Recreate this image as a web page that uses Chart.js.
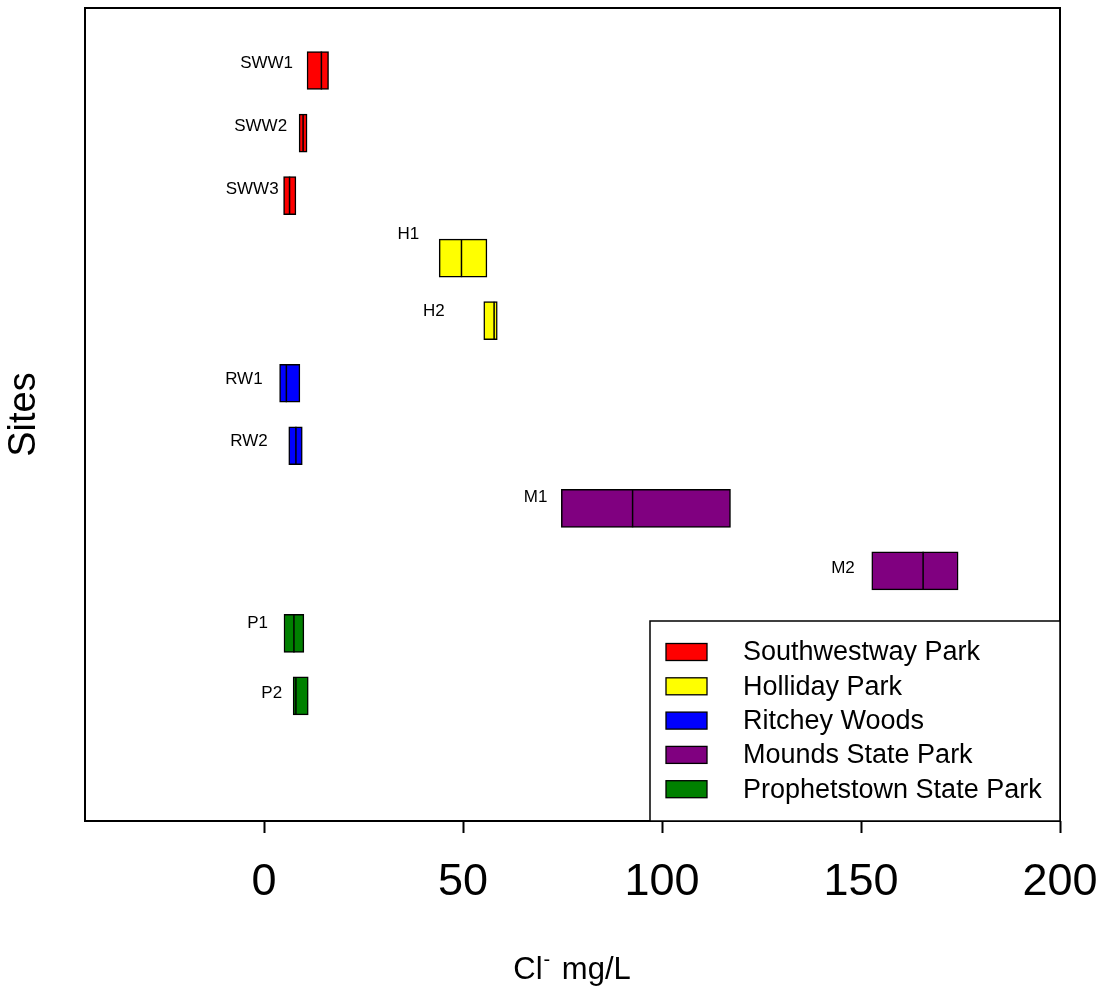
<!DOCTYPE html>
<html>
<head>
<meta charset="utf-8">
<script src="https://cdn.jsdelivr.net/npm/chart.js@4/dist/chart.umd.min.js"></script>
<style>
  html, body { margin: 0; padding: 0; background: #fff; }
  canvas { display: block; }
</style>
</head>
<body>
<canvas id="c" width="1108" height="990"></canvas>
<script>
// Chloride concentration ranges (min, max, median) per sampling site, mg/L
const sites    = ['SWW1', 'SWW2', 'SWW3', 'H1', 'H2', 'RW1', 'RW2', 'M1', 'M2', 'P1', 'P2'];
const lows     = [10.8, 8.8, 4.9, 44.0, 55.2, 3.9, 6.2, 74.7, 152.7, 5.0, 7.3];
const highs    = [16.2, 10.8, 8.0, 56.0, 58.6, 9.0, 9.6, 117.2, 174.4, 10.0, 11.1];
const medians  = [14.4, 9.8, 6.4, 49.6, 57.8, 5.6, 8.0, 92.6, 165.6, 7.5, 8.0];
const siteParks = [0, 0, 0, 1, 1, 2, 2, 3, 3, 4, 4];

const parks      = ['Southwestway Park', 'Holliday Park', 'Ritchey Woods', 'Mounds State Park', 'Prophetstown State Park'];
const parkColors = ['#ff0000', '#ffff00', '#0000ff', '#800080', '#008000'];

const xTicks = [0, 50, 100, 150, 200];

// one blank slot above the sites and two below
const rowLabels = [''].concat(sites, ['', '']);

const FONT = "'Liberation Sans', Arial, Helvetica, sans-serif";

const datasets = parks.map((park, p) => ({
  label: park,
  data: rowLabels.map((_, r) => {
    const i = r - 1;
    return (i >= 0 && i < sites.length && siteParks[i] === p) ? [lows[i], highs[i]] : null;
  }),
  backgroundColor: parkColors[p],
  borderColor: '#000',
  borderWidth: 1.5,
  borderSkipped: false,
  barThickness: 38,
  grouped: false
}));

// frame around the plotting area
const framePlugin = {
  id: 'frame',
  afterDraw(chart) {
    const { ctx, chartArea: a } = chart;
    ctx.save();
    ctx.strokeStyle = '#000';
    ctx.lineWidth = 2;
    ctx.strokeRect(a.left, a.top, a.right - a.left, a.bottom - a.top);
    ctx.restore();
  }
};

// median line inside each box and the site name beside it
const boxDetailPlugin = {
  id: 'boxDetail',
  afterDatasetsDraw(chart, args, opts) {
    const { ctx } = chart;
    const xs = chart.scales.x, ys = chart.scales.y;
    ctx.save();
    sites.forEach((name, i) => {
      const yc = ys.getPixelForValue(i + 1);
      const xm = xs.getPixelForValue(medians[i]);
      ctx.strokeStyle = '#000';
      ctx.lineWidth = 1.5;
      ctx.beginPath();
      ctx.moveTo(xm, yc - 19);
      ctx.lineTo(xm, yc + 19);
      ctx.stroke();

      const xl = xs.getPixelForValue(lows[i]);
      ctx.fillStyle = '#000';
      ctx.font = '17px ' + FONT;
      ctx.textAlign = 'right';
      ctx.textBaseline = 'middle';
      ctx.fillText(name, xl - opts.gaps[i], yc + opts.shifts[i]);
    });
    ctx.restore();
  }
};

// boxed legend in the lower right corner of the plot
const boxLegendPlugin = {
  id: 'boxLegend',
  afterDraw(chart) {
    const { ctx, chartArea: a } = chart;
    const w = 410, h = 200;
    const x0 = a.right - w, y0 = a.bottom - h;
    ctx.save();
    ctx.fillStyle = '#fff';
    ctx.fillRect(x0, y0, w, h);
    ctx.strokeStyle = '#000';
    ctx.lineWidth = 1.5;
    ctx.strokeRect(x0, y0, w, h);
    chart.data.datasets.forEach((ds, k) => {
      const cy = y0 + 31 + k * 34.3;
      ctx.fillStyle = ds.backgroundColor;
      ctx.fillRect(x0 + 16, cy - 8.5, 41, 17);
      ctx.strokeStyle = '#000';
      ctx.lineWidth = 1.3;
      ctx.strokeRect(x0 + 16, cy - 8.5, 41, 17);
      ctx.fillStyle = '#000';
      ctx.font = '27px ' + FONT;
      ctx.textAlign = 'left';
      ctx.textBaseline = 'middle';
      ctx.fillText(ds.label, x0 + 93, cy + 1);
    });
    ctx.restore();
  }
};

// x axis title: Cl with a superscript minus, then the unit
const xTitlePlugin = {
  id: 'xTitle',
  afterDraw(chart) {
    const { ctx } = chart;
    const cx = 572, base = 979;
    ctx.save();
    ctx.fillStyle = '#000';
    ctx.textBaseline = 'alphabetic';
    ctx.textAlign = 'left';
    ctx.font = '31px ' + FONT;
    const wCl = ctx.measureText('Cl').width;
    const wUnit = ctx.measureText(' mg/L').width;
    ctx.font = '20px ' + FONT;
    const wSup = ctx.measureText('-').width;
    const total = wCl + wSup + 4 + wUnit;
    let x = cx - total / 2;
    ctx.font = '31px ' + FONT;
    ctx.fillText('Cl', x, base);
    x += wCl + 1;
    ctx.font = '20px ' + FONT;
    ctx.fillText('-', x, base - 13);
    x += wSup + 3;
    ctx.font = '31px ' + FONT;
    ctx.fillText(' mg/L', x, base);
    ctx.restore();
  }
};

new Chart(document.getElementById('c'), {
  type: 'bar',
  data: { labels: rowLabels, datasets },
  options: {
    indexAxis: 'y',
    responsive: false,
    animation: false,
    events: [],
    layout: { padding: { left: 0, right: 48, top: 8, bottom: 0 } },
    scales: {
      x: {
        type: 'linear',
        min: -45,
        max: 200,
        afterBuildTicks(scale) {
          scale.ticks = xTicks.map(v => ({ value: v }));
        },
        afterFit(scale) {
          scale.height = 169;
          scale.paddingLeft = 0;
          scale.paddingRight = 0;
        },
        border: { display: false },
        grid: {
          drawOnChartArea: false,
          drawTicks: true,
          tickLength: 12,
          tickWidth: 2,
          tickColor: '#000'
        },
        ticks: {
          color: '#000',
          font: { family: FONT, size: 45 },
          padding: 23,
          maxRotation: 0
        }
      },
      y: {
        type: 'category',
        offset: false,
        afterFit(scale) {
          scale.width = 85;
          scale.paddingTop = 0;
          scale.paddingBottom = 0;
        },
        border: { display: false },
        grid: { display: false },
        ticks: { display: false },
        title: {
          display: true,
          text: 'Sites',
          color: '#000',
          font: { family: FONT, size: 38 },
          padding: { top: 2, bottom: 0 }
        }
      }
    },
    plugins: {
      legend: { display: false },
      tooltip: { enabled: false },
      boxDetail: {
        gaps:   [14, 12, 5, 20, 39, 17, 21, 14, 17, 16, 11],
        shifts: [-7.5, -7, -6.6, -24, -9, -4, -4, -11, -3, -10, -3]
      }
    }
  },
  plugins: [framePlugin, boxDetailPlugin, boxLegendPlugin, xTitlePlugin]
});
</script>
</body>
</html>
